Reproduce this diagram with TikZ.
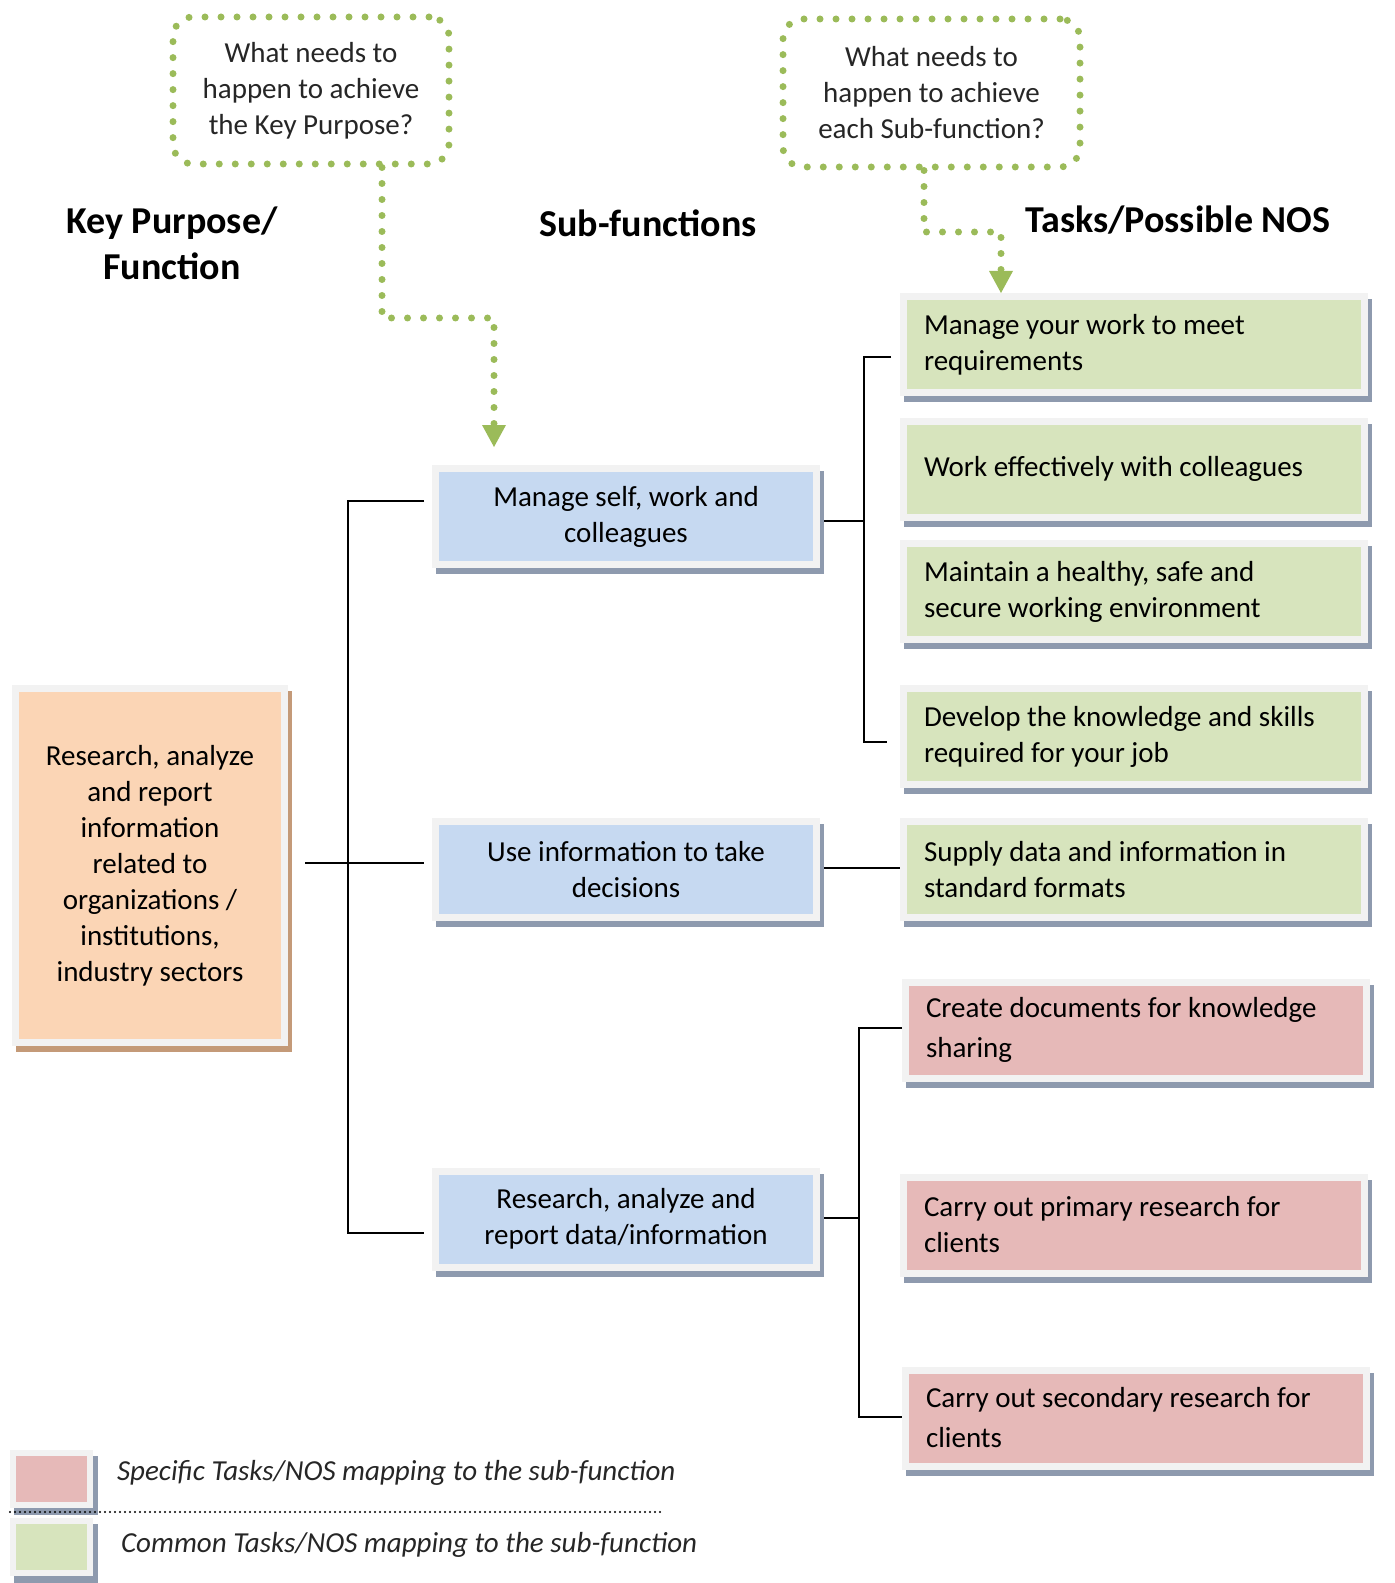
\documentclass[tikz,border=0pt]{standalone}
\usepackage{fontspec}
\setmainfont{Carlito}
\usetikzlibrary{arrows.meta,shadows,calc}

\definecolor{subblue}{HTML}{C6D9F1}
\definecolor{taskgreen}{HTML}{D7E4BD}
\definecolor{taskred}{HTML}{E6B9B8}
\definecolor{keyorange}{HTML}{FBD5B5}
\definecolor{framegray}{HTML}{F2F2F2}
\definecolor{shadowgray}{HTML}{8E9AAE}
\definecolor{shadowbrown}{HTML}{C49A78}
\definecolor{dotgreen}{HTML}{9BBB59}
\definecolor{darktext}{HTML}{262626}

\newcommand{\bodyfont}{\fontsize{14.5}{18}\selectfont}

\tikzset{
  base/.style={draw=framegray, line width=3.5pt, inner sep=0pt, font=\bodyfont},
  shade/.style={general shadow={draw=#1, fill=#1, line width=3.5pt,
      shadow xshift=2pt, shadow yshift=-3pt}},
  keybox/.style={base, fill=keyorange, shade=shadowbrown, align=center,
      minimum width=134.5pt, minimum height=177pt},
  subbox/.style={base, fill=subblue, shade=shadowgray, align=center,
      minimum width=190.5pt, minimum height=48pt},
  taskbox/.style={base, fill=#1, shade=shadowgray, align=flush left,
      text width=210pt, inner xsep=10.25pt, minimum height=48pt},
  callout/.style={draw=dotgreen, line width=3.5pt, dash pattern=on 0pt off 8pt,
      line cap=round, rounded corners=10pt, align=center, text=darktext,
      font=\bodyfont, inner sep=0pt},
  dotline/.style={draw=dotgreen, line width=3.5pt, dash pattern=on 0pt off 8pt,
      line cap=round, -{Triangle[width=12pt,length=11pt,line width=0pt,fill=dotgreen]}},
  head/.style={font=\fontsize{19}{23}\selectfont\bfseries, align=center},
  tree/.style={line width=1pt},
  legtext/.style={font=\bodyfont\itshape, text=darktext, anchor=west}
}

\begin{document}
\begin{tikzpicture}[x=0.5pt, y=-0.5pt]
\useasboundingbox (0,0) rectangle (1394,1583);

% questions and headings
\node[callout, minimum width=138pt, minimum height=73.5pt] (q1) at (311,90.5)
  {What needs to\\happen to achieve\\the Key Purpose?};
\node[callout, minimum width=148.5pt, minimum height=74pt] (q2) at (931.5,93)
  {What needs to\\happen to achieve\\each Sub-function?};
\node[head] (hkey) at (172,243) {Key Purpose/\\Function};
\node[head] (hsub) at (648,223) {Sub-functions};
\node[head] (htask) at (1178,220) {Tasks/Possible NOS};

% key purpose and sub-functions
\node[keybox] (key) at (150,865.5) {Research, analyze\\and report\\information\\related to\\organizations /\\institutions,\\industry sectors};
\node[subbox] (sub1) at (626,516.5) {Manage self, work and\\colleagues};
\node[subbox] (sub2) at (626,869.5) {Use information to take\\decisions};
\node[subbox] (sub3) at (626,1219) {Research, analyze and\\report data/information};

% tasks
\node[taskbox=taskgreen] (t1) at (1134,344.5) {Manage your work to meet\\requirements};
\node[taskbox=taskgreen] (t2) at (1134,469) {Work effectively with colleagues};
\node[taskbox=taskgreen] (t3) at (1134,591.5) {Maintain a healthy, safe and\\secure working environment};
\node[taskbox=taskgreen] (t4) at (1134,736.5) {Develop the knowledge and skills\\required for your job};
\node[taskbox=taskgreen] (t5) at (1134,869.5) {Supply data and information in\\standard formats};
\node[taskbox=taskred, font=\fontsize{14.5}{20}\selectfont] (r1) at (1136,1030) {Create documents for knowledge\\sharing};
\node[taskbox=taskred] (r2) at (1134,1225) {Carry out primary research for\\clients};
\node[taskbox=taskred, font=\fontsize{14.5}{20}\selectfont] (r3) at (1136,1418) {Carry out secondary research for\\clients};

% dotted arrows
\coordinate (k1) at (382,318);
\coordinate (k2) at (494,318);
\draw[dotline] (q1.south -| k1) -- (k1) -- (k2) -- ($(sub1.north -| k2)+(0,-18)$);
\coordinate (k3) at (924,232);
\coordinate (k4) at (1001,232);
\draw[dotline] (q2.south -| k3) -- (k3) -- (k4) -- (t1.north -| k4);

% tree
\coordinate (trunk) at (348,863);
\draw[tree] ($(key.east |- trunk)+(17,0)$) -- ($(sub2.west |- trunk)+(-8,0)$);
\draw[tree] ($(sub1.west)+(-8,-15.5)$) -| (trunk) |- ($(sub3.west)+(-8,14)$);
\coordinate (br1) at (864,521);
\draw[tree] ($(sub1.east |- br1)+(4,0)$) -- (br1);
\draw[tree] ($(t1.west)+(-9,12.5)$) -| (br1) |- ($(t4.west)+(-13,5.5)$);
\draw[tree] ($(sub2.east)+(4,-1.5)$) -- ($(t5.west)+(0,-1.5)$);
\coordinate (br3) at (859,1218);
\draw[tree] ($(sub3.east |- br3)+(4,0)$) -- (br3);
\draw[tree] ($(r1.west)+(0,-2)$) -| (br3) |- ($(r3.west)+(0,-1)$);

% legend
\node[base, line width=3pt, fill=taskred, shade=shadowgray, minimum width=38.5pt, minimum height=26pt] (legred) at (51.5,1479) {};
\node[base, line width=3pt, fill=taskgreen, shade=shadowgray, minimum width=38.5pt, minimum height=26pt] (leggreen) at (51.5,1547) {};
\node[legtext] (legredtxt) at (110,1473) {Specific Tasks/NOS mapping to the sub-function};
\node[legtext] (leggreentxt) at (114,1545) {Common Tasks/NOS mapping to the sub-function};
\draw[line width=1.2pt, dash pattern=on 0pt off 2.5pt, line cap=round] (10,1512) -- (663,1512);
\end{tikzpicture}
\end{document}
